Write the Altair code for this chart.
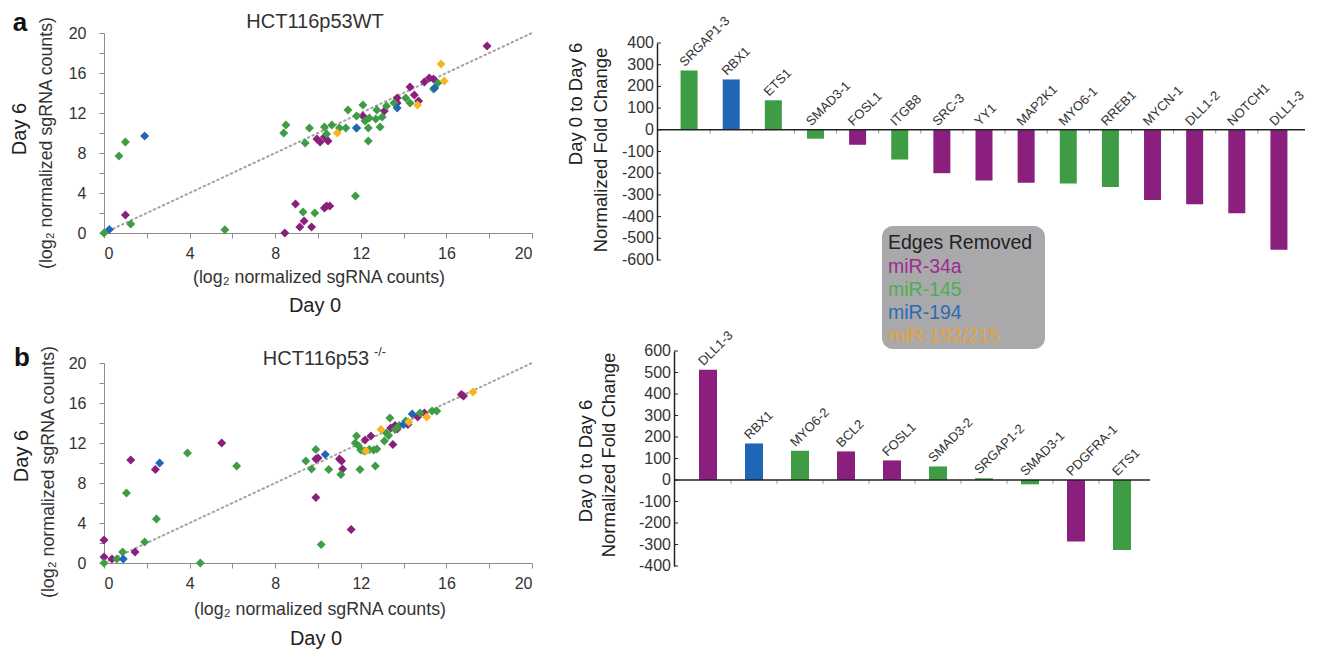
import altair as alt
import pandas as pd

FONT = "Liberation Sans"
GROUPS = ["miR-34a", "miR-145", "miR-194", "miR-192/215"]
POINT_COLORS = ["#8b1f7d", "#3e9c44", "#1f66b6", "#f7b51e"]
BAR_COLORS = ["#8c2a7a", "#42a047", "#1f66b3", "#f2a93b"]
LEGEND_COLORS = ["#9c2c8e", "#4caf50", "#2a6cb8", "#e8a23a"]

# ---------------- scatter a (HCT116p53WT) ----------------
A34_x = [1.0, 8.45, 8.95, 9.15, 9.35, 9.7, 10.3, 10.4, 10.55, 9.95, 10.1, 10.3, 10.47, 12.1, 13.1, 13.7, 13.7, 14.3, 14.5, 14.7, 14.97, 15.2, 15.4, 17.9]
A34_y = [1.8, 0.0, 2.9, 0.6, 1.2, 0.6, 2.5, 2.7, 2.7, 9.4, 9.1, 9.6, 9.2, 11.7, 12.2, 13.5, 13.0, 14.6, 13.8, 13.2, 15.1, 15.5, 15.4, 18.7]
A145_x = [0.0, 0.7, 1.0, 1.25, 5.65, 8.4, 8.5, 9.4, 9.6, 9.3, 9.85, 10.3, 10.4, 10.65, 11.0, 11.3, 11.4, 11.8, 11.8, 11.75, 12.1, 12.2, 12.4, 12.35, 12.35, 12.7, 12.75, 12.9, 13.0, 13.2, 13.55, 14.1, 14.3, 15.4, 15.6]
A145_y = [0.0, 7.7, 9.1, 0.9, 0.33, 10.0, 10.8, 9.0, 10.5, 2.1, 2.0, 10.6, 9.9, 10.8, 10.5, 10.5, 12.3, 11.7, 10.5, 3.7, 12.8, 11.2, 11.5, 10.5, 9.2, 11.4, 12.3, 10.6, 11.6, 12.7, 13.0, 13.5, 13.0, 14.4, 15.0]
A194_x = [0.25, 1.9, 11.8, 13.7, 15.45]
A194_y = [0.35, 9.7, 10.5, 12.5, 14.5]
A192_x = [10.9, 14.65, 15.75, 15.9]
A192_y = [10.0, 12.8, 16.9, 15.2]

# ---------------- scatter b (HCT116p53-/-) ----------------
B34_x = [0.0, 0.0, 0.37, 1.45, 1.25, 2.4, 5.5, 9.9, 9.9, 10.0, 11.0, 11.1, 11.15, 11.55, 12.2, 12.47, 13.5, 13.4, 13.6, 13.7, 14.2, 14.66, 14.97, 16.7, 16.8]
B34_y = [2.3, 0.6, 0.4, 1.1, 10.3, 9.35, 12.0, 6.55, 10.4, 10.5, 10.4, 10.2, 9.4, 3.35, 12.3, 12.7, 11.85, 13.5, 13.75, 13.4, 13.85, 14.6, 15.0, 16.85, 16.7]
B145_x = [0.0, 0.6, 0.87, 1.05, 1.9, 2.45, 3.9, 4.5, 6.2, 10.15, 9.43, 9.9, 9.7, 11.07, 10.5, 11.96, 12.68, 11.8, 11.74, 11.9, 12.0, 12.16, 12.4, 12.6, 12.75, 13.1, 13.2, 13.3, 13.36, 13.6, 13.8, 14.1, 14.77, 15.33, 15.55]
B145_y = [0.0, 0.4, 1.1, 7.0, 2.1, 4.4, 11.0, 0.0, 9.7, 1.84, 10.2, 11.35, 9.4, 8.85, 9.35, 9.35, 9.7, 12.7, 12.0, 11.7, 11.3, 11.2, 11.35, 11.3, 11.4, 12.2, 13.0, 12.75, 14.5, 13.35, 13.75, 14.2, 15.0, 15.2, 15.2]
B194_x = [0.9, 2.6, 10.34, 14.0, 14.4]
B194_y = [0.4, 10.0, 10.85, 13.85, 14.9]
B192_x = [12.24, 12.94, 14.24, 15.08, 17.24]
B192_y = [11.2, 13.35, 14.1, 14.6, 17.1]

# ---------------- bars ----------------
A_genes = ["SRGAP1-3", "RBX1", "ETS1", "SMAD3-1", "FOSL1", "ITGB8", "SRC-3", "YY1",
           "MAP2K1", "MYO6-1", "RREB1", "MYCN-1", "DLL1-2", "NOTCH1", "DLL1-3"]
A_values = [273, 232, 136, -41, -69, -137, -200, -234, -244, -247, -264, -324, -343, -385, -553]
A_groups = ["miR-145", "miR-194", "miR-145", "miR-145", "miR-34a", "miR-145", "miR-34a", "miR-34a",
            "miR-34a", "miR-145", "miR-145", "miR-34a", "miR-34a", "miR-34a", "miR-34a"]

B_genes = ["DLL1-3", "RBX1", "MYO6-2", "BCL2", "FOSL1", "SMAD3-2", "SRGAP1-2", "SMAD3-1", "PDGFRA-1", "ETS1"]
B_values = [513, 170, 136, 133, 91, 63, 8, -20, -286, -325]
B_groups = ["miR-34a", "miR-194", "miR-145", "miR-34a", "miR-34a", "miR-145", "miR-145", "miR-145", "miR-34a", "miR-145"]

A_ticks = [400, 300, 200, 100, 0, -100, -200, -300, -400, -500, -600]
B_ticks = [600, 500, 400, 300, 200, 100, 0, -100, -200, -300, -400]
SC_ticks = [0, 2, 4, 6, 8, 10, 12, 14, 16, 18, 20]


def txt(text, x, y, size, angle=0, color="#222", weight="normal", align="center", baseline="middle"):
    return alt.Chart(pd.DataFrame({"t": [text]})).mark_text(
        fontSize=size, font=FONT, angle=angle, color=color, fontWeight=weight,
        align=align, baseline=baseline
    ).encode(text="t:N", x=alt.value(x), y=alt.value(y))


def scatter(series, layers, top):
    rows = []
    for g, xs, ys in series:
        for a, b in zip(xs, ys):
            rows.append({"day0": a, "day6": b, "group": g})
    df = pd.DataFrame(rows)
    xenc = alt.X("day0:Q", scale=alt.Scale(domain=[0, 20], nice=False),
                 axis=alt.Axis(values=SC_ticks, labelExpr="datum.value % 4 == 0 ? datum.label : ''",
                               grid=False, title=None, domainColor="#8c8c8c", tickColor="#8c8c8c",
                               tickSize=5, labelFontSize=16, labelFont=FONT, labelColor="#333",
                               labelPadding=7, labelOverlap=False))
    yenc = alt.Y("day6:Q", scale=alt.Scale(domain=[0, 20], nice=False, range=[top + 200, top]),
                 axis=alt.Axis(values=SC_ticks, labelExpr="datum.value % 4 == 0 ? datum.label : ''",
                               grid=False, title=None, domainColor="#8c8c8c", tickColor="#8c8c8c",
                               tickSize=5, labelFontSize=16, labelFont=FONT, labelColor="#333",
                               labelPadding=13, labelOverlap=False))
    diag = alt.Chart(pd.DataFrame({"day0": [0, 20], "day6": [0, 20]})).mark_line(
        color="#a3a3a3", strokeWidth=2, strokeDash=[1.5, 3.5], strokeCap="round"
    ).encode(x=xenc, y=yenc)
    pts = alt.Chart(df).mark_point(shape="diamond", filled=True, size=80, opacity=1).encode(
        x=xenc, y=yenc,
        color=alt.Color("group:N", scale=alt.Scale(domain=GROUPS, range=POINT_COLORS), legend=None),
    )
    return alt.layer(diag, pts, *layers).properties(width=428, height=200 + top)


LOG2 = "(log\u2082 normalized sgRNA counts)"

scatA = scatter(
    [("miR-34a", A34_x, A34_y), ("miR-145", A145_x, A145_y), ("miR-194", A194_x, A194_y), ("miR-192/215", A192_x, A192_y)],
    [
        txt("a", -84, -10, 26, weight="bold", color="#111"),
        txt("HCT116p53WT", 211, -11, 20, color="#333"),
        txt("Day 6", -84, 96, 20, angle=270, color="#222"),
        txt(LOG2, -57, 110, 17.8, angle=270, color="#333"),
        txt(LOG2, 215, 245, 17.8, color="#333"),
        txt("Day 0", 211, 273, 20, color="#222"),
        alt.Chart(pd.DataFrame({"s": [0]})).mark_rect(opacity=0).encode(
            x=alt.value(-96), x2=alt.value(0), y=alt.value(-25), y2=alt.value(0)),
    ],
    0,
)

T = 12  # scatter b plot starts 12 px below the top of its grid row
scatB = scatter(
    [("miR-34a", B34_x, B34_y), ("miR-145", B145_x, B145_y), ("miR-194", B194_x, B194_y), ("miR-192/215", B192_x, B192_y)],
    [
        txt("b", -82, T - 5, 26, weight="bold", color="#111"),
        txt("HCT116p53", 212, T - 4, 20, color="#333"),
        txt("-/-", 270, T - 11, 12.5, color="#333", align="left"),
        txt("Day 6", -82, T + 93, 20, angle=270, color="#222"),
        txt(LOG2, -55, T + 109, 17.8, angle=270, color="#333"),
        txt(LOG2, 216, T + 247, 17.8, color="#333"),
        txt("Day 0", 212, T + 276, 20, color="#222"),
    ],
    T,
)


def bars(genes, values, groups, ticks, width, height, left, top, bar_size, title_pos, extra):
    n = len(genes)
    idx = list(range(n))
    df = pd.DataFrame({"idx": idx, "value": values, "group": groups, "gene": genes})
    lab = pd.DataFrame({"idx": [i - 0.05 for i in idx], "value": [max(v, 0) + 6 for v in values], "gene": genes})
    bnd = pd.DataFrame({"idx": [i + 0.5 for i in range(n - 1)]})
    tick_df = pd.DataFrame({"value": ticks, "lab": [str(t) for t in ticks]})
    xenc = alt.X("idx:Q", scale=alt.Scale(domain=[-0.5, n - 0.5], nice=False, zero=False,
                                          range=[left, left + width]), axis=None)
    yenc = alt.Y("value:Q", scale=alt.Scale(domain=[min(ticks), max(ticks)], nice=False,
                                            range=[top + height, top]),
                 axis=alt.Axis(values=ticks, offset=6 - left, grid=False, title=None, domainColor="#222",
                               domainWidth=1.5, ticks=False, labels=False))
    b = alt.Chart(df).mark_bar(size=bar_size).encode(
        x=xenc, y=yenc, y2=alt.datum(0),
        color=alt.Color("group:N", scale=alt.Scale(domain=GROUPS, range=BAR_COLORS), legend=None),
    )
    ticks_small = alt.Chart(bnd).mark_rule(color="#9a9a9a", strokeWidth=1).encode(
        x=xenc, y=alt.datum(0), y2=alt.datum(-18))
    zero = alt.Chart(pd.DataFrame({"s": [0]})).mark_rule(color="#222", strokeWidth=1.5).encode(
        x=alt.value(left - 6), x2=alt.value(left + width), y=alt.datum(0))
    tick_marks = alt.Chart(tick_df).mark_rule(color="#222", strokeWidth=1).encode(
        x=alt.value(left - 6), x2=alt.value(left - 2), y=yenc)
    tick_labels = alt.Chart(tick_df).mark_text(align="right", baseline="middle", fontSize=16,
                                               font=FONT, color="#333").encode(
        x=alt.value(left - 9), y=yenc, text="lab:N")
    labels = alt.Chart(lab).mark_text(angle=315, align="left", baseline="bottom", fontSize=13,
                                       font=FONT, color="#333").encode(x=xenc, y=yenc, text="gene:N")
    (x1, y1), (x2, y2) = title_pos
    titles = [
        txt("Day 0 to Day 6", left + x1, top + y1, 18.5, angle=270, color="#222"),
        txt("Normalized Fold Change", left + x2, top + y2, 18.5, angle=270, color="#222"),
    ]
    return alt.layer(b, ticks_small, zero, tick_marks, tick_labels, labels, *titles, *extra).properties(
        width=left + width, height=top + height)


# legend (drawn inside panel a of the bar charts; coordinates relative to that panel)
LEG_TOP = 10
legend_layers = [
    alt.Chart(pd.DataFrame({"s": [0]})).mark_rect(cornerRadius=11, color="#a9a9ab").encode(
        x=alt.value(219), x2=alt.value(382), y=alt.value(LEG_TOP + 183), y2=alt.value(LEG_TOP + 306)),
    txt("Edges Removed", 225, LEG_TOP + 200, 19.5, color="#222", align="left"),
]
for i, (lbl, col) in enumerate(zip(GROUPS, LEGEND_COLORS)):
    legend_layers.append(txt(lbl, 225, LEG_TOP + 224 + i * 23, 19.5, color=col, align="left"))

barA = bars(A_genes, A_values, A_groups, A_ticks, 642, 217, 0, 10, 17,
            ((-87, 61), (-62, 107)), legend_layers)
barB = bars(B_genes, B_values, B_groups, B_ticks, 470, 215, 17, 0, 18,
            ((-94, 110), (-71, 104)), [])

chart = alt.concat(scatA, barA, scatB, barB, columns=2, spacing={"row": 91, "column": 131},
                   bounds="flush").properties(
    padding={"left": 0, "top": 0, "right": 0, "bottom": 0}
).configure_view(stroke=None)

chart.save("out.html", embed_options={"renderer": "svg", "actions": False})
